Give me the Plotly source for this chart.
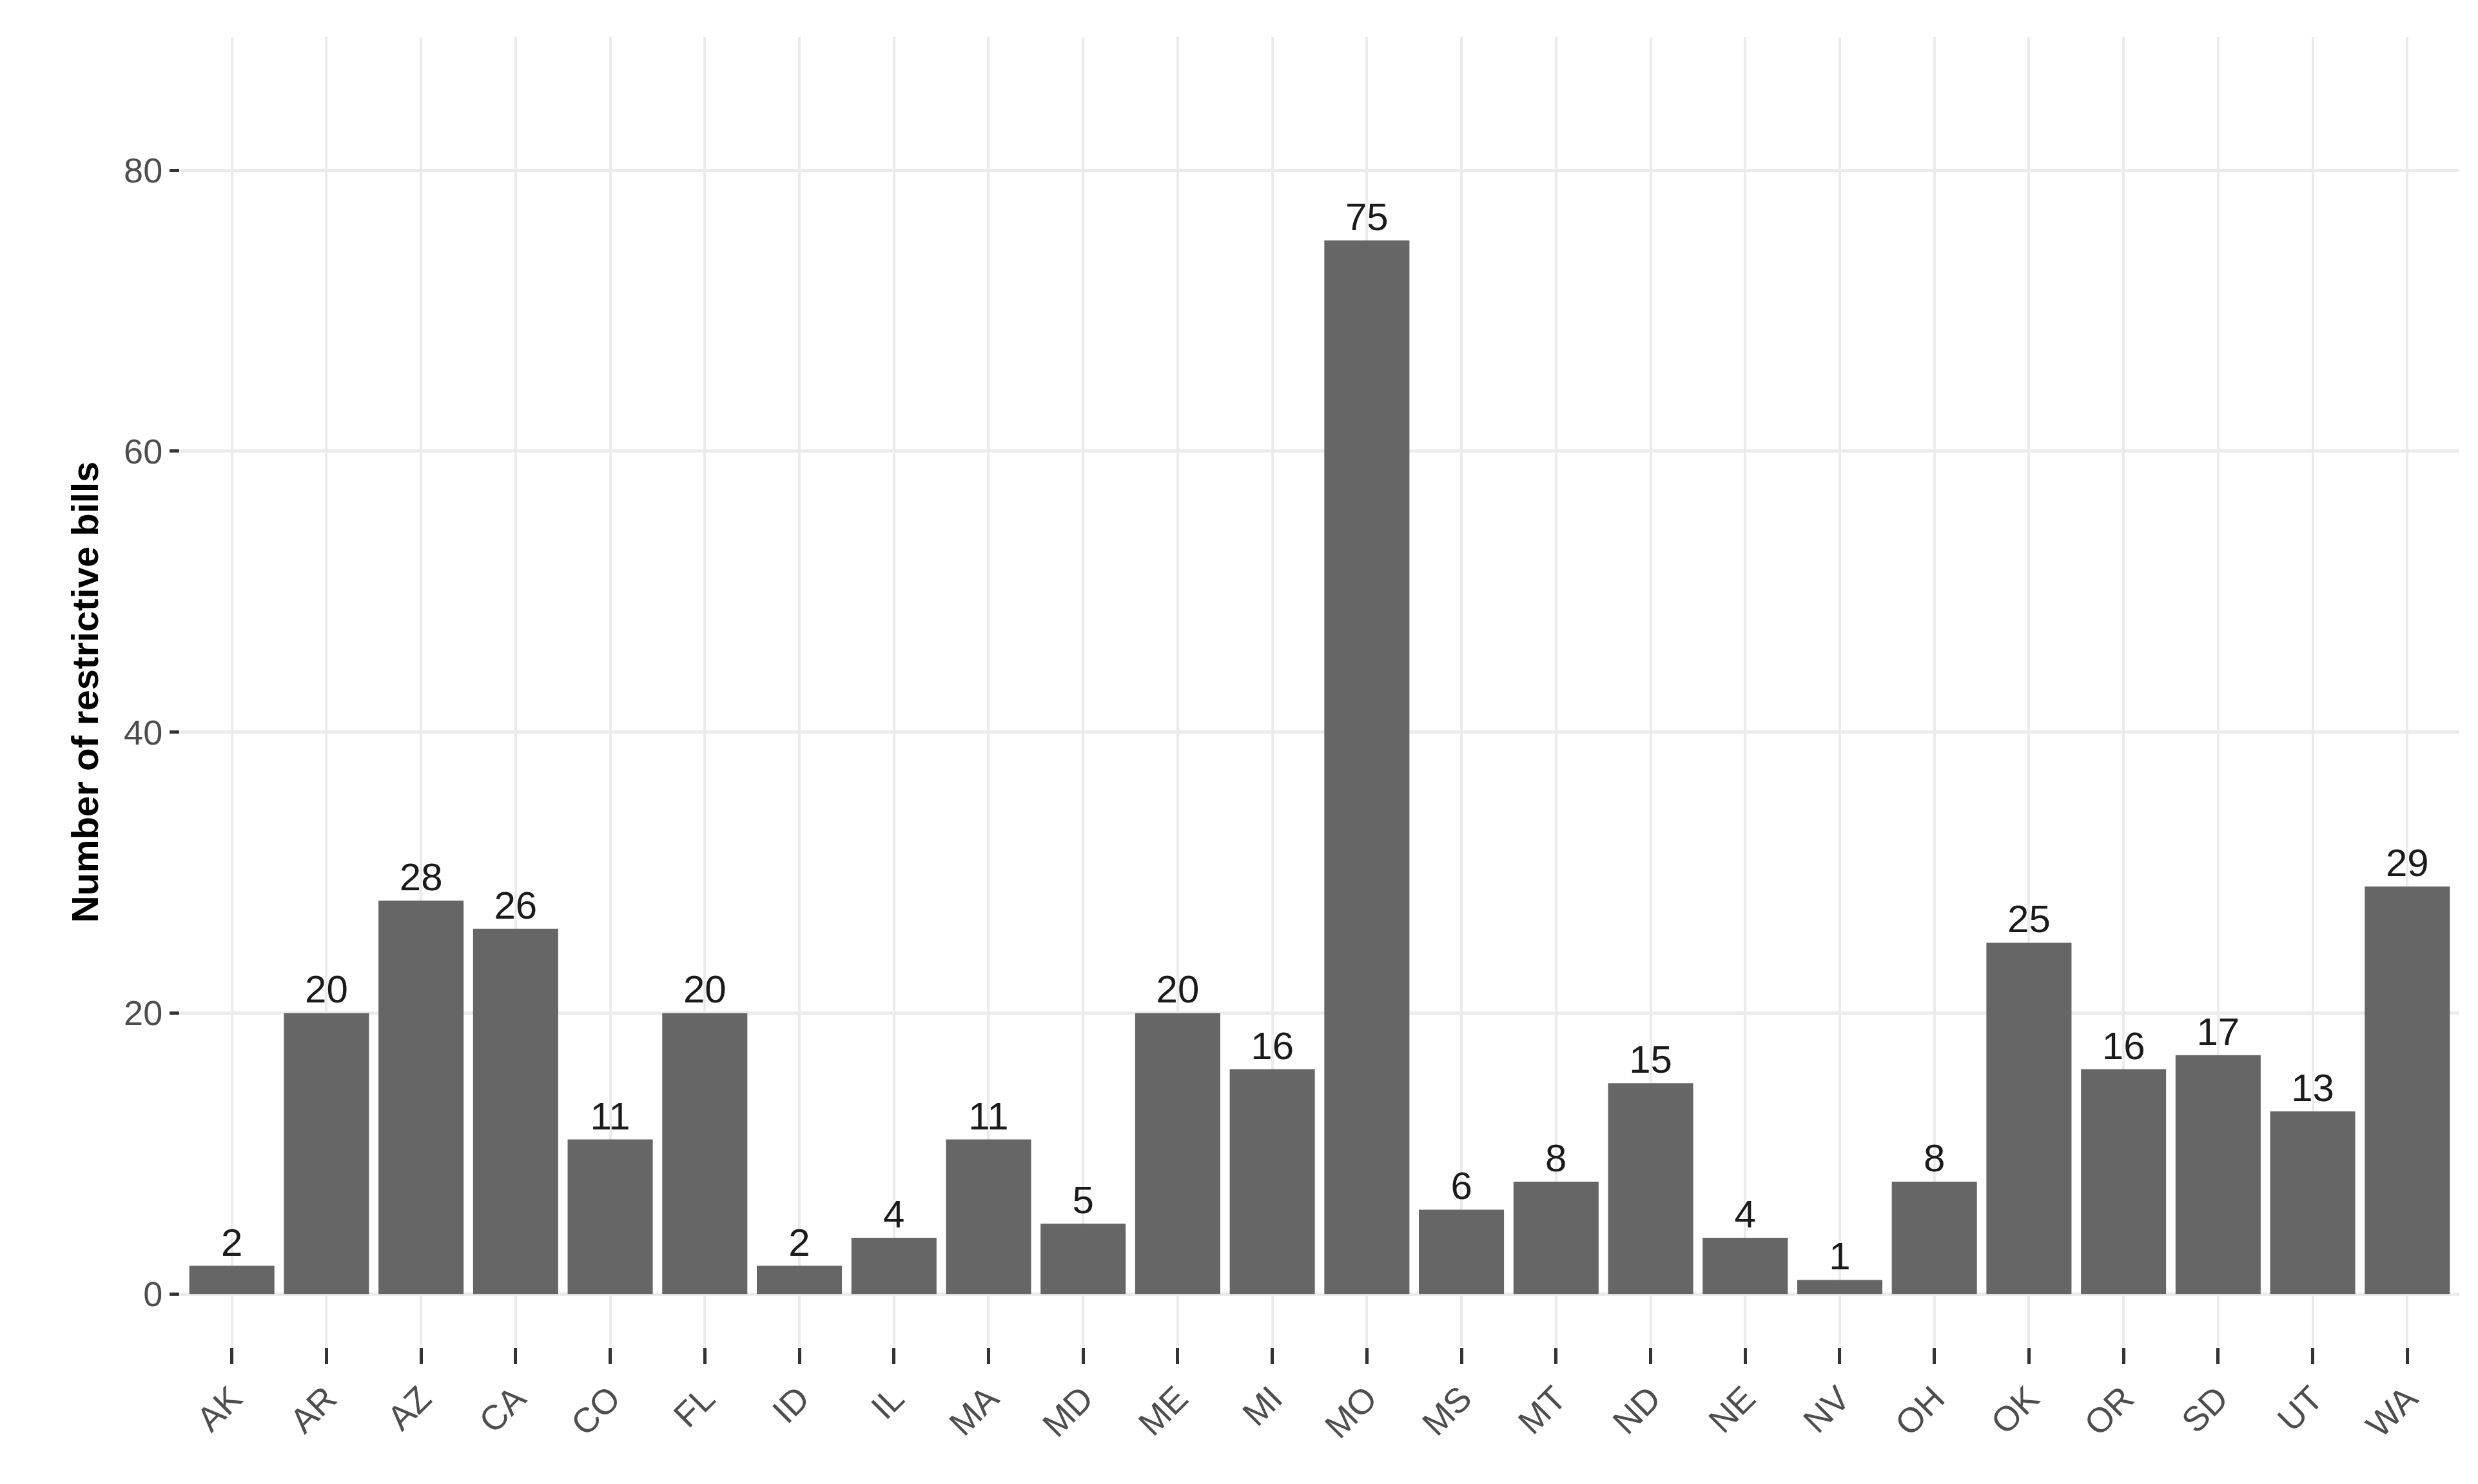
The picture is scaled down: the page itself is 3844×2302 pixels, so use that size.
import plotly.graph_objects as go

states = ["AK", "AR", "AZ", "CA", "CO", "FL", "ID", "IL", "MA", "MD", "ME", "MI",
          "MO", "MS", "MT", "ND", "NE", "NV", "OH", "OK", "OR", "SD", "UT", "WA"]
bills = [2, 20, 28, 26, 11, 20, 2, 4, 11, 5, 20, 16,
         75, 6, 8, 15, 4, 1, 8, 25, 16, 17, 13, 29]

fig = go.Figure(go.Bar(
    x=states, y=bills,
    marker=dict(color="#666666", line=dict(width=0)),
    width=0.9,
    text=bills, textposition="outside", cliponaxis=False,
    textfont=dict(size=60, color="#1a1a1a"),
))

fig.update_layout(
    width=3844, height=2302,
    plot_bgcolor="white", paper_bgcolor="white",
    font=dict(family="Liberation Sans, Arial", size=54, color="#4d4d4d"),
    margin=dict(l=271, r=37, t=49, b=220),
    bargap=0.1,
    showlegend=False,
    xaxis=dict(
        showgrid=True, gridcolor="#ebebeb", gridwidth=4,
        ticks="outside", ticklen=25, tickwidth=5, tickcolor="#333333",
        tickangle=-45, showline=False, zeroline=False,
        range=[-0.55, 23.55],
    ),
    yaxis=dict(
        title=dict(text="<b>Number of restrictive bills</b>", font=dict(size=58, color="black"), standoff=20),
        range=[-3.8, 89.5], tickvals=[0, 20, 40, 60, 80],
        showgrid=True, gridcolor="#ebebeb", gridwidth=5,
        ticks="outside", ticklen=15, tickwidth=5, tickcolor="#333333",
        zeroline=False, showline=False,
    ),
)

fig.write_html("out.html")
